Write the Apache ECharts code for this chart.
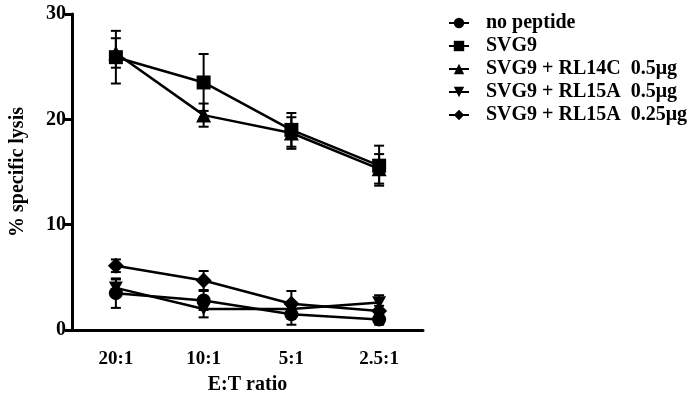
<!DOCTYPE html>
<html>
<head>
<meta charset="utf-8">
<script src="https://cdn.jsdelivr.net/npm/echarts@6/dist/echarts.min.js"></script>
<style>
  html, body { margin: 0; padding: 0; background: #fff; }
  #chart { width: 689px; height: 400px; }
</style>
</head>
<body>
<div id="chart"></div>
<script>
// E:T 比例
const categories = ['20:1', '10:1', '5:1', '2.5:1'];
const yTicks = [0, 10, 20, 30];

// 各组均值
const noPeptide = [3.5, 2.8, 1.5, 1.0];
const svg9 = [25.9, 23.5, 19.0, 15.6];
const rl14c = [26.3, 20.4, 18.7, 15.3];
const rl15a05 = [4.0, 2.0, 2.0, 2.6];
const rl15a025 = [6.1, 4.7, 2.5, 1.8];

// 误差 (±)
const noPeptideErr = [1.4, 0.9, 1.0, 0.5];
const svg9Err = [2.5, 2.7, 1.6, 1.9];
const rl14cErr = [1.4, 1.1, 1.5, 1.4];
const rl15a05Err = [0.8, 0.8, 0.5, 0.7];
const rl15a025Err = [0.6, 0.9, 1.2, 0.5];

const names = ['no peptide', 'SVG9', 'SVG9 + RL14C  0.5\u03bcg', 'SVG9 + RL15A  0.5\u03bcg', 'SVG9 + RL15A  0.25\u03bcg'];
const symbols = ['circle', 'rect', 'triangle', 'path://M0,0 L10,0 L5,9 Z', 'diamond'];
const sizes = [14, 14, 15, 14, 16];
const means = [noPeptide, svg9, rl14c, rl15a05, rl15a025];
const errs = [noPeptideErr, svg9Err, rl14cErr, rl15a05Err, rl15a025Err];

const font = '"Liberation Serif", "Times New Roman", serif';

const chart = echarts.init(document.getElementById('chart'));

const series = [];
means.forEach((vv, i) => {
  series.push({
    name: names[i],
    type: 'line',
    data: vv,
    symbol: symbols[i],
    symbolSize: sizes[i],
    symbolKeepAspect: true,
    lineStyle: { color: '#000', width: 2.5 },
    itemStyle: { color: '#000' },
    z: 3
  });
  // 误差线
  series.push({
    type: 'custom',
    silent: true,
    z: 2,
    data: vv.map((m, k) => [k, m - errs[i][k], m + errs[i][k]]),
    renderItem (params, api) {
      const lo = api.coord([api.value(0), api.value(1)]);
      const hi = api.coord([api.value(0), api.value(2)]);
      const w = 5;
      const st = { stroke: '#000', lineWidth: 2 };
      return {
        type: 'group',
        children: [
          { type: 'line', shape: { x1: lo[0], y1: lo[1], x2: hi[0], y2: hi[1] }, style: st },
          { type: 'line', shape: { x1: lo[0] - w, y1: lo[1], x2: lo[0] + w, y2: lo[1] }, style: st },
          { type: 'line', shape: { x1: hi[0] - w, y1: hi[1], x2: hi[0] + w, y2: hi[1] }, style: st }
        ]
      };
    }
  });
});

const option = {
  animation: false,
  backgroundColor: '#fff',
  grid: { left: 72, right: 266, top: 14, bottom: 67, containLabel: false },
  legend: {
    data: names,
    orient: 'vertical',
    left: 443,
    top: 8,
    itemWidth: 20,
    itemHeight: 13,
    itemGap: 3,
    textStyle: { fontFamily: font, fontWeight: 'bold', fontSize: 20, color: '#000', lineHeight: 20, padding: [0, 0, 0, 12] }
  },
  xAxis: {
    type: 'category',
    data: categories,
    boundaryGap: true,
    name: 'E:T ratio',
    nameLocation: 'middle',
    nameGap: 45,
    nameTextStyle: { fontFamily: font, fontWeight: 'bold', fontSize: 20, color: '#000' },
    axisLine: { lineStyle: { color: '#000', width: 3 } },
    axisTick: { alignWithLabel: true, length: 7, lineStyle: { color: '#000', width: 3 } },
    axisLabel: { margin: 20, fontFamily: font, fontWeight: 'bold', fontSize: 19, color: '#000' },
    splitLine: { show: false }
  },
  yAxis: {
    type: 'value',
    min: yTicks[0],
    max: yTicks[yTicks.length - 1],
    interval: 10,
    name: '% specific lysis',
    nameLocation: 'middle',
    nameGap: 44,
    nameTextStyle: { fontFamily: font, fontWeight: 'bold', fontSize: 20, color: '#000' },
    axisLine: { show: true, lineStyle: { color: '#000', width: 3 } },
    axisTick: { show: true, length: 7, lineStyle: { color: '#000', width: 3 } },
    axisLabel: { margin: 6, fontFamily: font, fontWeight: 'bold', fontSize: 20, color: '#000' },
    splitLine: { show: false }
  },
  series: series
};

chart.setOption(option);
</script>
</body>
</html>
